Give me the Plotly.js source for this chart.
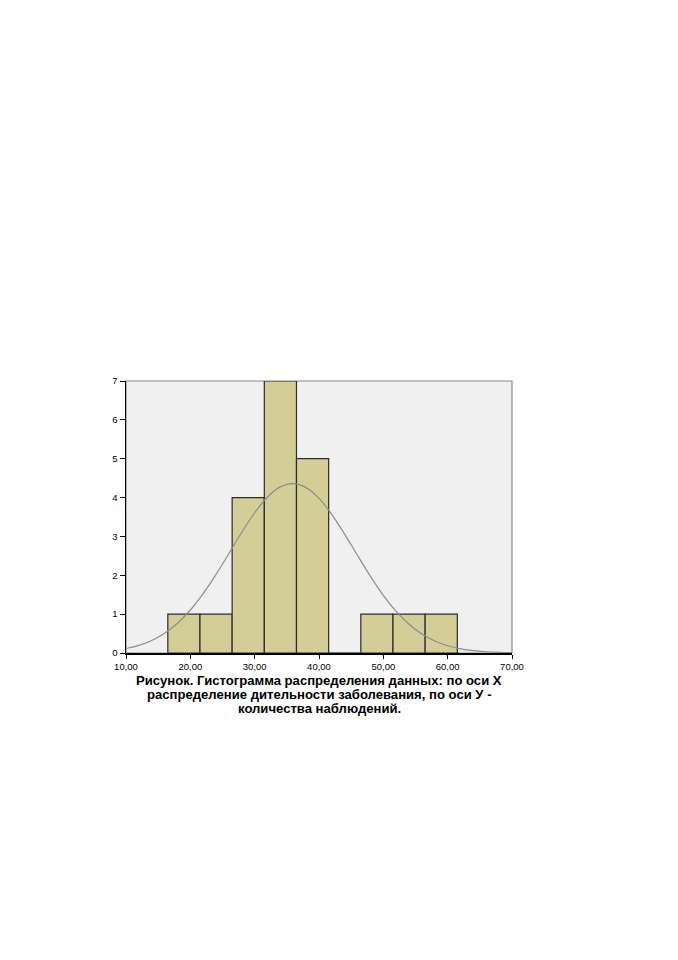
<!DOCTYPE html>
<html>
<head>
<meta charset="utf-8">
<script src="https://cdn.plot.ly/plotly-3.0.1.min.js"></script>
<style>html,body{margin:0;padding:0;background:#fff;}</style>
</head>
<body>
<div id="chart" style="width:678px;height:960px;"></div>
<script>
// Histogram bins (centres) and counts
const binCenters = [19, 24, 29, 34, 39, 44, 49, 54, 59];
const binCounts = [1, 1, 4, 7, 5, 0, 1, 1, 1];
// Normal curve
const curveX = [10,12,14,16,18,20,22,24,26,28,30,32,34,36,38,40,42,44,46,48,50,52,54,56,58,60,62,64,66,68,70];
const curveY = [0.115,0.196,0.323,0.508,0.766,1.107,1.529,2.022,2.561,3.107,3.609,4.015,4.275,4.36,4.256,3.98,3.563,3.054,2.508,1.971,1.482,1.069,0.738,0.487,0.308,0.187,0.108,0.06,0.032,0.016,0.008];
const xTicks = [10,20,30,40,50,60,70];
const yTicks = [0,1,2,3,4,5,6,7];
const captionLines = [
  'Рисунок. Гистограмма распределения данных: по оси X',
  'распределение дительности заболевания, по оси У -',
  'количества наблюдений.'
];

const traces = [
  {type:'bar', x: binCenters, y: binCounts, width: 5,
   marker:{color:'#d3ce97', line:{color:'#2b2b2b', width:1.2}}, hoverinfo:'skip'},
  {type:'scatter', mode:'lines', x: curveX, y: curveY,
   line:{color:'#8c8c8c', width:1.2, shape:'spline'}, hoverinfo:'skip'}
];
const plotH = 272;
const annotations = captionLines.map((t, i) => ({
  xref:'paper', yref:'paper', x:0.5, y:-(27 + 14*i)/plotH, xanchor:'center', yanchor:'middle',
  text:'<b>'+t+'</b>', showarrow:false, align:'center',
  font:{size:13.1, color:'#000', family:'Liberation Sans, Arial, sans-serif'}
}));
const layout = {
  width:678, height:960,
  margin:{l:126, r:166, t:381, b:307, pad:0},
  paper_bgcolor:'#ffffff', plot_bgcolor:'#f0f0f0',
  showlegend:false, separators:',.',
  font:{family:'Liberation Sans, Arial, sans-serif', color:'#000'},
  xaxis:{range:[10,70], tickvals:xTicks, tickformat:'.2f', ticks:'outside', ticklen:4,
    tickcolor:'#000', showgrid:false, zeroline:false, showline:true, linecolor:'#000', linewidth:1.5,
    mirror:false, tickfont:{size:9.5, color:'#000'}, fixedrange:true},
  yaxis:{range:[0,7], tickvals:yTicks, ticks:'outside', ticklen:5, tickcolor:'#000',
    showgrid:false, zeroline:false, showline:true, linecolor:'#000', linewidth:1.5,
    tickfont:{size:9.5, color:'#000'}, fixedrange:true},
  shapes:[{type:'rect', xref:'paper', yref:'paper', x0:0, x1:1, y0:0, y1:1,
    line:{color:'#8a8a8a', width:1.2}, fillcolor:'rgba(0,0,0,0)', layer:'below'}],
  annotations: annotations
};
Plotly.newPlot('chart', traces, layout, {displayModeBar:false, staticPlot:true});
</script>
</body>
</html>
